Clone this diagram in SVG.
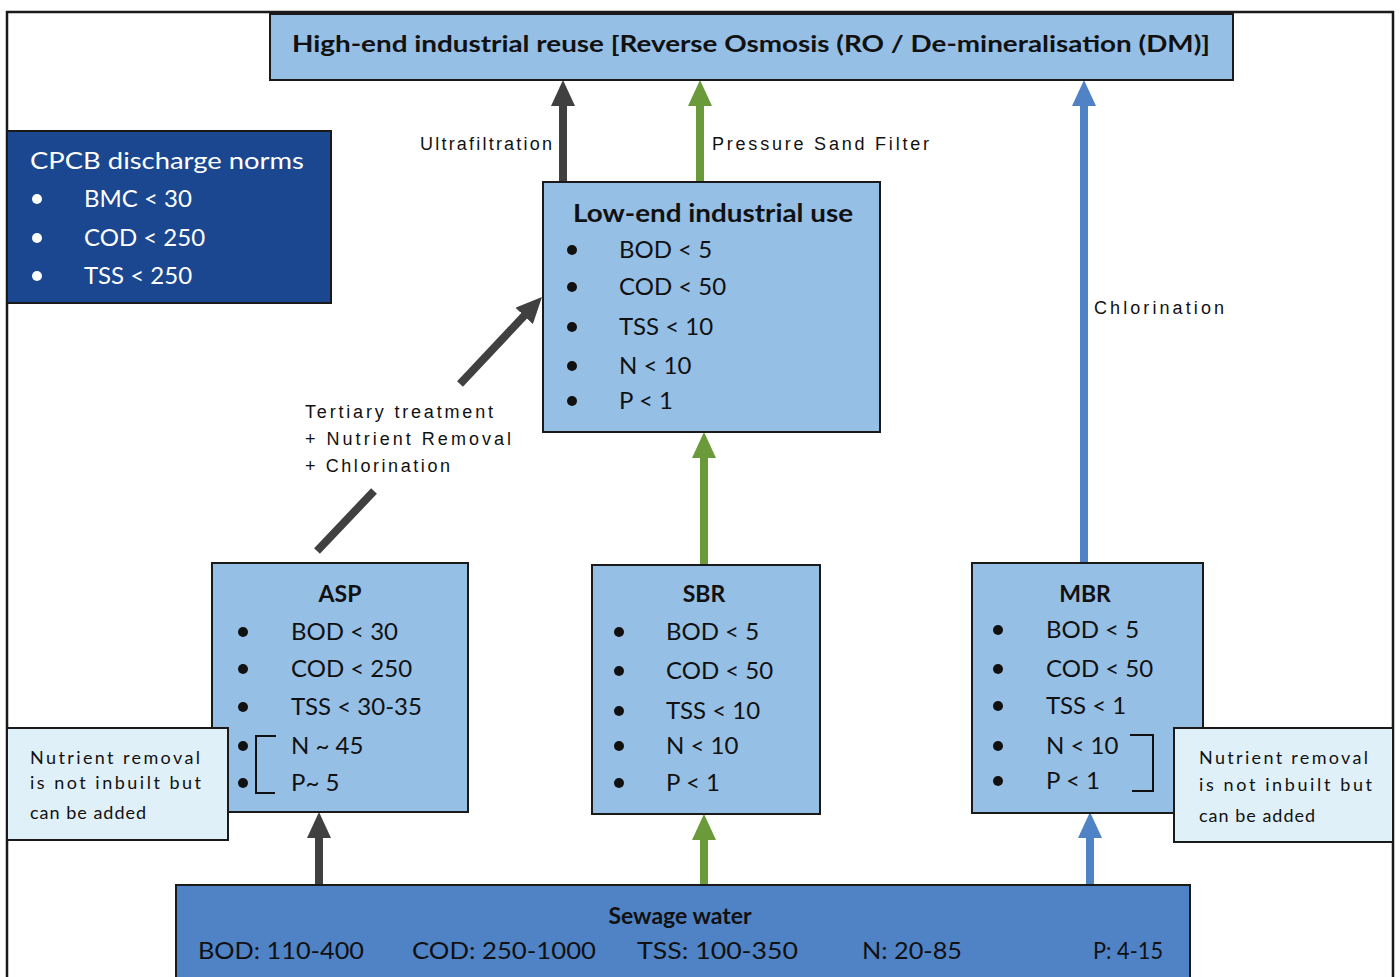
<svg xmlns="http://www.w3.org/2000/svg" width="1400" height="977" viewBox="0 0 1400 977">
<style>
.box{fill:#95bfe5;stroke:#1a1a1a;stroke-width:2}
.note{fill:#e0f0f9;stroke:#1a1a1a;stroke-width:2}
.t{font-family:Lato,"Liberation Sans",sans-serif;fill:#111}
.b{font-weight:bold}
.li{font-size:24px}
.lab{font-family:"Liberation Sans",Arial,sans-serif;font-size:18px;fill:#111}
.nt{font-family:Lato,"Liberation Sans",sans-serif;font-size:18px;fill:#111;letter-spacing:1px}
.dark{stroke:#404040;stroke-width:8;fill:none}
.green{stroke:#6a9a3a;stroke-width:8;fill:none}
.blue{stroke:#4f83c6;stroke-width:8;fill:none}
</style>
<defs>
<marker id="hd" viewBox="0 0 26 24" markerWidth="26" markerHeight="24" refX="10" refY="12" orient="auto" markerUnits="userSpaceOnUse"><path d="M0,0 L26,12 L0,24 z" fill="#404040"/></marker>
<marker id="hg" viewBox="0 0 26 24" markerWidth="26" markerHeight="24" refX="10" refY="12" orient="auto" markerUnits="userSpaceOnUse"><path d="M0,0 L26,12 L0,24 z" fill="#6a9a3a"/></marker>
<marker id="hb" viewBox="0 0 26 24" markerWidth="26" markerHeight="24" refX="10" refY="12" orient="auto" markerUnits="userSpaceOnUse"><path d="M0,0 L26,12 L0,24 z" fill="#4f83c6"/></marker>
</defs>
<rect x="0" y="0" width="1400" height="977" fill="#fff"/>
<path d="M7,977 V12 H1393 V977" fill="none" stroke="#1a1a1a" stroke-width="2.5"/>

<g id="connectors">
<line class="dark" x1="563" y1="182" x2="563" y2="96" marker-end="url(#hd)"/>
<line class="green" x1="700" y1="182" x2="700" y2="96" marker-end="url(#hg)"/>
<line class="blue" x1="1084" y1="563" x2="1084" y2="96" marker-end="url(#hb)"/>
<line class="green" x1="704" y1="565" x2="704" y2="448" marker-end="url(#hg)"/>
<line class="dark" x1="317" y1="551" x2="374" y2="491"/>
<line class="dark" x1="460" y1="384" x2="531" y2="308.6" marker-end="url(#hd)"/>
<line class="dark" x1="319" y1="885" x2="319" y2="828" marker-end="url(#hd)"/>
<line class="green" x1="704" y1="885" x2="704" y2="830" marker-end="url(#hg)"/>
<line class="blue" x1="1090" y1="885" x2="1090" y2="828" marker-end="url(#hb)"/>
<text class="lab" x="420" y="150" textLength="132" lengthAdjust="spacing">Ultrafiltration</text>
<text class="lab" x="712" y="150" textLength="217" lengthAdjust="spacing">Pressure Sand Filter</text>
<text class="lab" x="1094" y="314" textLength="130" lengthAdjust="spacing">Chlorination</text>
<text class="lab" x="305" y="418" textLength="188" lengthAdjust="spacing">Tertiary treatment</text>
<text class="lab" x="305" y="445" textLength="206" lengthAdjust="spacing">+ Nutrient Removal</text>
<text class="lab" x="305" y="472" textLength="145" lengthAdjust="spacing">+ Chlorination</text>
</g>

<g id="high-end">
<rect class="box" x="270" y="14" width="963" height="66"/>
<text class="t b" x="751" y="52" font-size="23" text-anchor="middle" textLength="918" lengthAdjust="spacingAndGlyphs">High-end industrial reuse [Reverse Osmosis (RO / De-mineralisation (DM)]</text>
</g>

<g id="cpcb">
<rect x="7" y="131" width="324" height="172" fill="#1a478f" stroke="#1a1a1a" stroke-width="2"/>
<g font-family="Lato,'Liberation Sans',sans-serif" fill="#fff" font-size="24">
<text x="30" y="169" textLength="274" lengthAdjust="spacingAndGlyphs">CPCB discharge norms</text>
<circle cx="37" cy="199" r="5"/><text x="84" y="207">BMC &lt; 30</text>
<circle cx="37" cy="238" r="5"/><text x="84" y="246">COD &lt; 250</text>
<circle cx="37" cy="276" r="5"/><text x="84" y="284">TSS &lt; 250</text>
</g>
</g>

<g id="low-end">
<rect class="box" x="543" y="182" width="337" height="250"/>
<text class="t b" x="573" y="222" font-size="24" textLength="280" lengthAdjust="spacingAndGlyphs">Low-end industrial use</text>
<g class="t li">
<circle cx="572" cy="250" r="5"/><text x="619" y="258">BOD &lt; 5</text>
<circle cx="572" cy="287" r="5"/><text x="619" y="295">COD &lt; 50</text>
<circle cx="572" cy="327" r="5"/><text x="619" y="335">TSS &lt; 10</text>
<circle cx="572" cy="366" r="5"/><text x="619" y="374">N &lt; 10</text>
<circle cx="572" cy="401" r="5"/><text x="619" y="409">P &lt; 1</text>
</g>
</g>

<g id="asp">
<rect class="box" x="212" y="563" width="256" height="249"/>
<text class="t b" x="340" y="602" font-size="23" text-anchor="middle">ASP</text>
<g class="t li">
<circle cx="243" cy="632" r="5"/><text x="291" y="640">BOD &lt; 30</text>
<circle cx="243" cy="669" r="5"/><text x="291" y="677">COD &lt; 250</text>
<circle cx="243" cy="707" r="5"/><text x="291" y="715">TSS &lt; 30-35</text>
<circle cx="243" cy="746" r="5"/><text x="291" y="754">N ~ 45</text>
<circle cx="243" cy="783" r="5"/><text x="291" y="791">P~ 5</text>
</g>
<path d="M276,736 H256 V793 H275" fill="none" stroke="#111" stroke-width="2"/>
</g>

<g id="sbr">
<rect class="box" x="592" y="565" width="228" height="249"/>
<text class="t b" x="704" y="602" font-size="23" text-anchor="middle">SBR</text>
<g class="t li">
<circle cx="619" cy="632" r="5"/><text x="666" y="640">BOD &lt; 5</text>
<circle cx="619" cy="671" r="5"/><text x="666" y="679">COD &lt; 50</text>
<circle cx="619" cy="711" r="5"/><text x="666" y="719">TSS &lt; 10</text>
<circle cx="619" cy="746" r="5"/><text x="666" y="754">N &lt; 10</text>
<circle cx="619" cy="783" r="5"/><text x="666" y="791">P &lt; 1</text>
</g>
</g>

<g id="mbr">
<rect class="box" x="972" y="563" width="231" height="250"/>
<text class="t b" x="1085" y="602" font-size="23" text-anchor="middle">MBR</text>
<g class="t li">
<circle cx="998" cy="630" r="5"/><text x="1046" y="638">BOD &lt; 5</text>
<circle cx="998" cy="669" r="5"/><text x="1046" y="677">COD &lt; 50</text>
<circle cx="998" cy="706" r="5"/><text x="1046" y="714">TSS &lt; 1</text>
<circle cx="998" cy="746" r="5"/><text x="1046" y="754">N &lt; 10</text>
<circle cx="998" cy="781" r="5"/><text x="1046" y="789">P &lt; 1</text>
</g>
<path d="M1130,735 H1153 V791 H1132" fill="none" stroke="#111" stroke-width="2"/>
</g>

<g id="note-left">
<rect class="note" x="7" y="728" width="221" height="112"/>
<text class="nt" x="30" y="764" textLength="171" lengthAdjust="spacing">Nutrient removal</text>
<text class="nt" x="30" y="789" textLength="172" lengthAdjust="spacing">is not inbuilt but</text>
<text class="nt" x="30" y="819">can be added</text>
</g>

<g id="note-right">
<rect class="note" x="1174" y="728" width="219" height="114"/>
<text class="nt" x="1199" y="764" textLength="170" lengthAdjust="spacing">Nutrient removal</text>
<text class="nt" x="1199" y="791" textLength="174" lengthAdjust="spacing">is not inbuilt but</text>
<text class="nt" x="1199" y="822">can be added</text>
</g>

<g id="sewage">
<rect x="176" y="885" width="1014" height="100" fill="#4f83c6" stroke="#1a1a1a" stroke-width="2"/>
<text class="t b" x="680" y="924" font-size="23" text-anchor="middle">Sewage water</text>
<g class="t" font-size="23">
<text x="198" y="959" textLength="166" lengthAdjust="spacingAndGlyphs">BOD: 110-400</text>
<text x="412" y="959" textLength="184" lengthAdjust="spacingAndGlyphs">COD: 250-1000</text>
<text x="637" y="959" textLength="161" lengthAdjust="spacingAndGlyphs">TSS: 100-350</text>
<text x="862" y="959" textLength="100" lengthAdjust="spacingAndGlyphs">N: 20-85</text>
<text x="1093" y="959" textLength="70" lengthAdjust="spacingAndGlyphs">P: 4-15</text>
</g>
</g>
</svg>
